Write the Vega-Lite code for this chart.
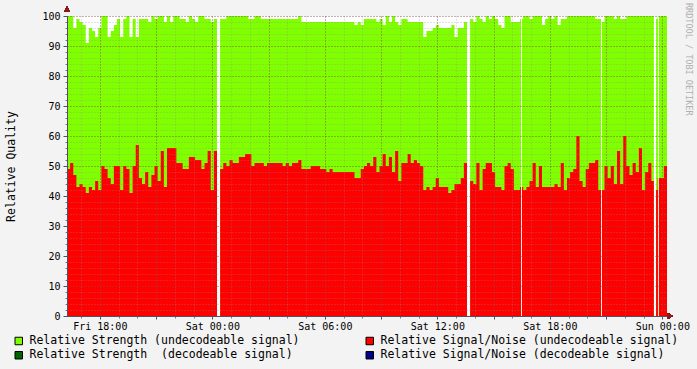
{
"$schema": "https://vega.github.io/schema/vega-lite/v6.json",
"width": 600, "height": 300,
"autosize": {"type": "none"},
"padding": {"left": 67, "top": 16, "right": 30, "bottom": 53},
"background": "#F3F3F3",
"title": {"text": "RRDTOOL / TOBI OETIKER", "orient": "right", "anchor": "start", "frame": "group", "font": "DejaVu Sans Mono", "fontSize": 8.5, "fontWeight": "normal", "color": "#AFAFAF", "offset": -5, "dx": -13},
"config": {
  "view": {"fill": "#FFFFFF", "stroke": null},
  "font": "DejaVu Sans Mono",
  "legend": {"symbolType": "square", "symbolSize": 56, "symbolStrokeColor": "#000000", "symbolStrokeWidth": 1, "symbolOpacity": 1, "labelFont": "DejaVu Sans Mono", "labelFontSize": 11.5, "labelColor": "#000000", "labelLimit": 400, "labelOffset": 5, "columnPadding": 64, "rowPadding": 1.5, "padding": 0}
},
"data": {"values": [
{"t":"2024-01-05T16:15","s":100,"n":49},{"t":"2024-01-05T16:25","s":100,"n":51},{"t":"2024-01-05T16:35","s":96,"n":47},{"t":"2024-01-05T16:45","s":99,"n":43},{"t":"2024-01-05T16:55","s":98,"n":44},{"t":"2024-01-05T17:05","s":97,"n":43},
{"t":"2024-01-05T17:15","s":91,"n":41},{"t":"2024-01-05T17:25","s":96,"n":43},{"t":"2024-01-05T17:35","s":95,"n":42},{"t":"2024-01-05T17:45","s":93,"n":45},{"t":"2024-01-05T17:55","s":96,"n":42},{"t":"2024-01-05T18:05","s":100,"n":50},
{"t":"2024-01-05T18:15","s":100,"n":49},{"t":"2024-01-05T18:25","s":93,"n":46},{"t":"2024-01-05T18:35","s":95,"n":44},{"t":"2024-01-05T18:45","s":97,"n":50},{"t":"2024-01-05T18:55","s":99,"n":50},{"t":"2024-01-05T19:05","s":93,"n":42},
{"t":"2024-01-05T19:15","s":99,"n":50},{"t":"2024-01-05T19:25","s":100,"n":49},{"t":"2024-01-05T19:35","s":93,"n":41},{"t":"2024-01-05T19:45","s":99,"n":50},{"t":"2024-01-05T19:55","s":93,"n":57},{"t":"2024-01-05T20:05","s":99,"n":46},
{"t":"2024-01-05T20:15","s":99,"n":44},{"t":"2024-01-05T20:25","s":99,"n":48},{"t":"2024-01-05T20:35","s":98,"n":43},{"t":"2024-01-05T20:45","s":100,"n":47},{"t":"2024-01-05T20:55","s":99,"n":50},{"t":"2024-01-05T21:05","s":100,"n":45},
{"t":"2024-01-05T21:15","s":100,"n":55},{"t":"2024-01-05T21:25","s":98,"n":43},{"t":"2024-01-05T21:35","s":100,"n":56},{"t":"2024-01-05T21:45","s":98,"n":56},{"t":"2024-01-05T21:55","s":100,"n":56},{"t":"2024-01-05T22:05","s":100,"n":51},
{"t":"2024-01-05T22:15","s":99,"n":51},{"t":"2024-01-05T22:25","s":99,"n":49},{"t":"2024-01-05T22:35","s":98,"n":49},{"t":"2024-01-05T22:45","s":100,"n":53},{"t":"2024-01-05T22:55","s":99,"n":53},{"t":"2024-01-05T23:05","s":98,"n":52},
{"t":"2024-01-05T23:15","s":100,"n":52},{"t":"2024-01-05T23:25","s":100,"n":49},{"t":"2024-01-05T23:35","s":99,"n":51},{"t":"2024-01-05T23:45","s":99,"n":55},{"t":"2024-01-05T23:55","s":98,"n":42},{"t":"2024-01-06T00:05","s":99,"n":55},
{"t":"2024-01-06T00:15","s":0,"n":0},{"t":"2024-01-06T00:25","s":99,"n":49},{"t":"2024-01-06T00:35","s":99,"n":51},{"t":"2024-01-06T00:45","s":100,"n":50},{"t":"2024-01-06T00:55","s":100,"n":52},{"t":"2024-01-06T01:05","s":100,"n":51},
{"t":"2024-01-06T01:15","s":100,"n":51},{"t":"2024-01-06T01:25","s":100,"n":53},{"t":"2024-01-06T01:35","s":100,"n":53},{"t":"2024-01-06T01:45","s":100,"n":54},{"t":"2024-01-06T01:55","s":99,"n":54},{"t":"2024-01-06T02:05","s":99,"n":50},
{"t":"2024-01-06T02:15","s":100,"n":51},{"t":"2024-01-06T02:25","s":100,"n":51},{"t":"2024-01-06T02:35","s":99,"n":51},{"t":"2024-01-06T02:45","s":99,"n":50},{"t":"2024-01-06T02:55","s":99,"n":51},{"t":"2024-01-06T03:05","s":99,"n":51},
{"t":"2024-01-06T03:15","s":99,"n":51},{"t":"2024-01-06T03:25","s":99,"n":51},{"t":"2024-01-06T03:35","s":99,"n":51},{"t":"2024-01-06T03:45","s":99,"n":50},{"t":"2024-01-06T03:55","s":99,"n":51},{"t":"2024-01-06T04:05","s":99,"n":50},
{"t":"2024-01-06T04:15","s":99,"n":51},{"t":"2024-01-06T04:25","s":99,"n":51},{"t":"2024-01-06T04:35","s":100,"n":52},{"t":"2024-01-06T04:45","s":98,"n":49},{"t":"2024-01-06T04:55","s":98,"n":49},{"t":"2024-01-06T05:05","s":98,"n":49},
{"t":"2024-01-06T05:15","s":98,"n":50},{"t":"2024-01-06T05:25","s":98,"n":50},{"t":"2024-01-06T05:35","s":98,"n":50},{"t":"2024-01-06T05:45","s":98,"n":49},{"t":"2024-01-06T05:55","s":98,"n":49},{"t":"2024-01-06T06:05","s":98,"n":48},
{"t":"2024-01-06T06:15","s":98,"n":49},{"t":"2024-01-06T06:25","s":98,"n":48},{"t":"2024-01-06T06:35","s":98,"n":48},{"t":"2024-01-06T06:45","s":98,"n":48},{"t":"2024-01-06T06:55","s":98,"n":48},{"t":"2024-01-06T07:05","s":98,"n":48},
{"t":"2024-01-06T07:15","s":98,"n":48},{"t":"2024-01-06T07:25","s":98,"n":48},{"t":"2024-01-06T07:35","s":97,"n":46},{"t":"2024-01-06T07:45","s":98,"n":46},{"t":"2024-01-06T07:55","s":97,"n":49},{"t":"2024-01-06T08:05","s":99,"n":50},
{"t":"2024-01-06T08:15","s":99,"n":51},{"t":"2024-01-06T08:25","s":99,"n":50},{"t":"2024-01-06T08:35","s":99,"n":53},{"t":"2024-01-06T08:45","s":98,"n":48},{"t":"2024-01-06T08:55","s":99,"n":50},{"t":"2024-01-06T09:05","s":97,"n":54},
{"t":"2024-01-06T09:15","s":100,"n":50},{"t":"2024-01-06T09:25","s":98,"n":53},{"t":"2024-01-06T09:35","s":100,"n":48},{"t":"2024-01-06T09:45","s":98,"n":55},{"t":"2024-01-06T09:55","s":97,"n":45},{"t":"2024-01-06T10:05","s":99,"n":51},
{"t":"2024-01-06T10:15","s":99,"n":51},{"t":"2024-01-06T10:25","s":98,"n":54},{"t":"2024-01-06T10:35","s":98,"n":51},{"t":"2024-01-06T10:45","s":98,"n":52},{"t":"2024-01-06T10:55","s":98,"n":51},{"t":"2024-01-06T11:05","s":98,"n":50},
{"t":"2024-01-06T11:15","s":93,"n":42},{"t":"2024-01-06T11:25","s":95,"n":43},{"t":"2024-01-06T11:35","s":95,"n":42},{"t":"2024-01-06T11:45","s":96,"n":43},{"t":"2024-01-06T11:55","s":97,"n":46},{"t":"2024-01-06T12:05","s":96,"n":43},
{"t":"2024-01-06T12:15","s":96,"n":43},{"t":"2024-01-06T12:25","s":96,"n":43},{"t":"2024-01-06T12:35","s":96,"n":41},{"t":"2024-01-06T12:45","s":97,"n":42},{"t":"2024-01-06T12:55","s":93,"n":44},{"t":"2024-01-06T13:05","s":96,"n":44},
{"t":"2024-01-06T13:15","s":96,"n":46},{"t":"2024-01-06T13:25","s":98,"n":51},{"t":"2024-01-06T13:35","s":0,"n":0},{"t":"2024-01-06T13:45","s":99,"n":45},{"t":"2024-01-06T13:55","s":98,"n":44},{"t":"2024-01-06T14:05","s":100,"n":51},
{"t":"2024-01-06T14:15","s":99,"n":42},{"t":"2024-01-06T14:25","s":98,"n":49},{"t":"2024-01-06T14:35","s":100,"n":51},{"t":"2024-01-06T14:45","s":99,"n":51},{"t":"2024-01-06T14:55","s":100,"n":48},{"t":"2024-01-06T15:05","s":99,"n":43},
{"t":"2024-01-06T15:15","s":97,"n":43},{"t":"2024-01-06T15:25","s":96,"n":42},{"t":"2024-01-06T15:35","s":100,"n":50},{"t":"2024-01-06T15:45","s":100,"n":51},{"t":"2024-01-06T15:55","s":98,"n":49},{"t":"2024-01-06T16:05","s":98,"n":42},
{"t":"2024-01-06T16:15","s":98,"n":42},{"t":"2024-01-06T16:25","s":99,"n":43},{"t":"2024-01-06T16:28","s":0,"n":0},{"t":"2024-01-06T16:31","s":99,"n":43},{"t":"2024-01-06T16:35","s":100,"n":42},{"t":"2024-01-06T16:45","s":100,"n":43},{"t":"2024-01-06T16:55","s":99,"n":45},{"t":"2024-01-06T17:05","s":100,"n":51},
{"t":"2024-01-06T17:15","s":100,"n":43},{"t":"2024-01-06T17:25","s":100,"n":50},{"t":"2024-01-06T17:35","s":97,"n":43},{"t":"2024-01-06T17:45","s":99,"n":43},{"t":"2024-01-06T17:55","s":100,"n":43},{"t":"2024-01-06T18:05","s":99,"n":43},
{"t":"2024-01-06T18:15","s":100,"n":44},{"t":"2024-01-06T18:25","s":97,"n":43},{"t":"2024-01-06T18:35","s":99,"n":51},{"t":"2024-01-06T18:45","s":99,"n":42},{"t":"2024-01-06T18:55","s":100,"n":46},{"t":"2024-01-06T19:05","s":100,"n":48},
{"t":"2024-01-06T19:15","s":100,"n":49},{"t":"2024-01-06T19:25","s":100,"n":60},{"t":"2024-01-06T19:35","s":100,"n":45},{"t":"2024-01-06T19:45","s":100,"n":43},{"t":"2024-01-06T19:55","s":100,"n":49},{"t":"2024-01-06T20:05","s":100,"n":51},
{"t":"2024-01-06T20:15","s":100,"n":51},{"t":"2024-01-06T20:25","s":99,"n":52},{"t":"2024-01-06T20:35","s":99,"n":42},{"t":"2024-01-06T20:44","s":0,"n":0},{"t":"2024-01-06T20:47","s":98,"n":42},{"t":"2024-01-06T20:55","s":100,"n":50},{"t":"2024-01-06T21:05","s":100,"n":46},
{"t":"2024-01-06T21:15","s":100,"n":50},{"t":"2024-01-06T21:25","s":99,"n":44},{"t":"2024-01-06T21:35","s":100,"n":55},{"t":"2024-01-06T21:45","s":99,"n":44},{"t":"2024-01-06T21:55","s":99,"n":60},{"t":"2024-01-06T22:05","s":100,"n":50},
{"t":"2024-01-06T22:15","s":100,"n":47},{"t":"2024-01-06T22:25","s":100,"n":51},{"t":"2024-01-06T22:35","s":100,"n":48},{"t":"2024-01-06T22:45","s":100,"n":56},{"t":"2024-01-06T22:55","s":100,"n":42},{"t":"2024-01-06T23:05","s":100,"n":48},
{"t":"2024-01-06T23:15","s":100,"n":51},{"t":"2024-01-06T23:25","s":100,"n":45},{"t":"2024-01-06T23:33","s":0,"n":0},{"t":"2024-01-06T23:40","s":99,"n":42},{"t":"2024-01-06T23:45","s":100,"n":46},{"t":"2024-01-06T23:46","s":0,"n":0},{"t":"2024-01-06T23:49","s":100,"n":46},{"t":"2024-01-06T23:55","s":100,"n":46},
{"t":"2024-01-07T00:05","s":100,"n":50},{"t":"2024-01-07T00:15","s":100,"n":50}
]},
"layer": [
  {
    "mark": {"type": "area", "interpolate": "step-after"},
    "encoding": {
      "x": {"field": "t", "type": "temporal",
        "scale": {"domain": [{"year": 2024, "month": 1, "date": 5, "hours": 16, "minutes": 15}, {"year": 2024, "month": 1, "date": 7, "hours": 0, "minutes": 15}], "nice": false},
        "axis": {"orient": "bottom", "zindex": 1, "tickCount": 32, "grid": true, "gridColor": "#8C8C8C", "gridOpacity": 0.5, "gridDash": [1, 2], "labels": false, "domain": false, "ticks": true, "tickSize": 2, "tickColor": "#7A7A7A", "title": null}},
      "y": {"field": "s", "type": "quantitative", "stack": null,
        "scale": {"domain": [0, 100], "nice": false},
        "axis": {"orient": "left", "zindex": 1, "values": [0,2,4,6,8,10,12,14,16,18,20,22,24,26,28,30,32,34,36,38,40,42,44,46,48,50,52,54,56,58,60,62,64,66,68,70,72,74,76,78,80,82,84,86,88,90,92,94,96,98,100], "grid": true, "gridColor": "#8C8C8C", "gridOpacity": 0.5, "gridDash": [1, 2], "labels": false, "domain": false, "ticks": true, "tickSize": 2, "tickColor": "#7A7A7A", "title": null}},
      "color": {"datum": "Relative Strength (undecodeable signal)",
        "scale": {"domain": ["Relative Strength (undecodeable signal)", "Relative Signal/Noise (undecodeable signal)", "Relative Strength\u00a0 (decodeable signal)", "Relative Signal/Noise (decodeable signal)"], "range": ["#7FFF00", "#FF0000", "#006400", "#00008B"]},
        "legend": {"orient": "none", "legendX": -54, "legendY": 319, "columns": 2, "direction": "horizontal", "title": null}}
    }
  },
  {
    "mark": {"type": "area", "interpolate": "step-after"},
    "encoding": {
      "x": {"field": "t", "type": "temporal",
        "axis": {"orient": "bottom", "zindex": 1, "tickCount": 11, "grid": true, "gridColor": "#821E1E", "gridOpacity": 0.5, "gridDash": [1, 2], "labelExpr": "hours(datum.value) % 6 == 0 ? timeFormat(datum.value, '%a %H:%M') : ''", "labelFont": "DejaVu Sans Mono", "labelFontSize": 10, "labelColor": "#000000", "labelFlush": false, "labelOverlap": false, "labelPadding": 2, "tickSize": 3, "tickColor": "#505060", "domain": true, "domainColor": "#505060", "title": null}},
      "y": {"field": "n", "type": "quantitative", "stack": null,
        "axis": {"orient": "left", "zindex": 1, "values": [0,10,20,30,40,50,60,70,80,90,100], "grid": true, "gridColor": "#821E1E", "gridOpacity": 0.5, "gridDash": [1, 2], "labelFont": "DejaVu Sans Mono", "labelFontSize": 10, "labelColor": "#000000", "labelPadding": 3, "tickSize": 4, "tickColor": "#505060", "domain": true, "domainColor": "#505060", "title": "Relative Quality", "titleFont": "DejaVu Sans Mono", "titleFontSize": 11.5, "titleFontWeight": "normal", "titleColor": "#000000", "titlePadding": 25}},
      "color": {"datum": "Relative Signal/Noise (undecodeable signal)"}
    }
  },
  {
    "mark": {"type": "point", "shape": "triangle-up", "filled": true, "size": 36, "color": "#8B1A1A", "opacity": 1, "clip": false},
    "encoding": {
      "x": {"datum": {"year": 2024, "month": 1, "date": 5, "hours": 16, "minutes": 15}, "type": "temporal", "axis": null},
      "y": {"datum": 102.3, "type": "quantitative", "axis": null}
    }
  },
  {
    "mark": {"type": "point", "shape": "triangle-right", "filled": true, "size": 36, "color": "#8B1A1A", "opacity": 1, "clip": false},
    "encoding": {
      "x": {"datum": {"year": 2024, "month": 1, "date": 7, "hours": 0, "minutes": 25}, "type": "temporal", "axis": null},
      "y": {"datum": 0, "type": "quantitative", "axis": null}
    }
  }
],
"resolve": {"axis": {"x": "independent", "y": "independent"}}
}
